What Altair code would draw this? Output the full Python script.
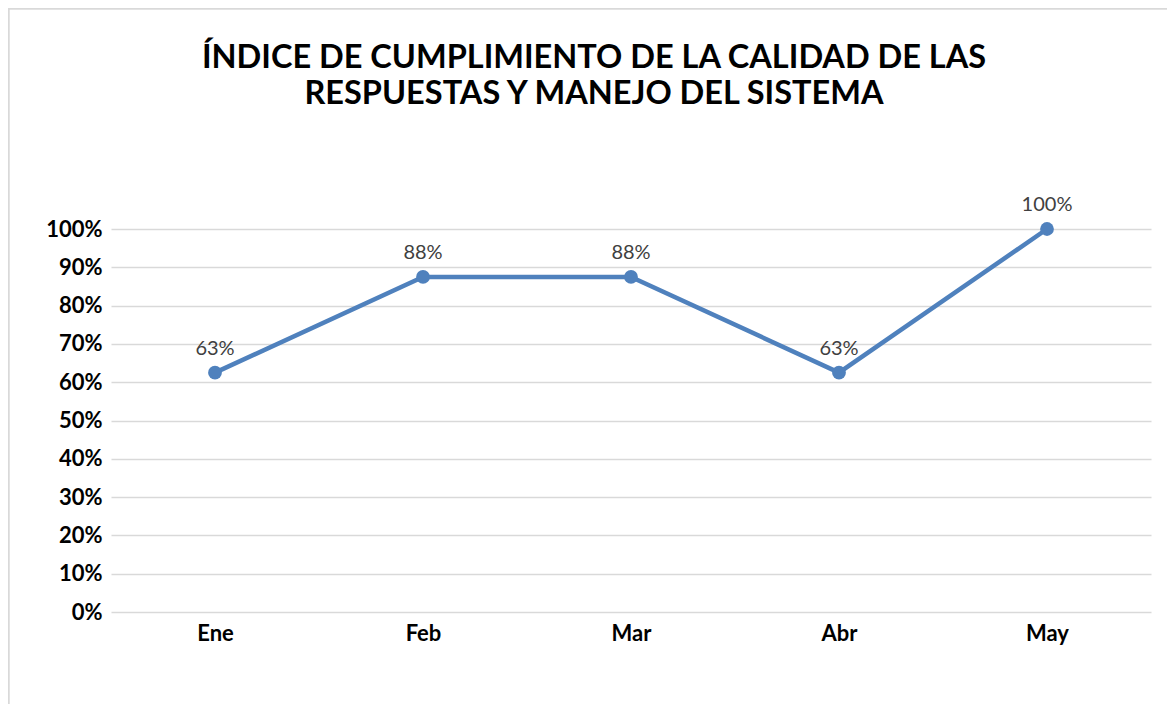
import altair as alt
import pandas as pd

months = ["Ene", "Feb", "Mar", "Abr", "May"]
values = [0.625, 0.875, 0.875, 0.625, 1.0]
labels = ["63%", "88%", "88%", "63%", "100%"]
title_lines = ["ÍNDICE DE CUMPLIMIENTO DE LA CALIDAD DE LAS",
               "RESPUESTAS Y MANEJO DEL SISTEMA"]

df = pd.DataFrame({"mes": months, "valor": values, "etiqueta": labels})

FONT = "Lato"
W, H = 1040, 383
PL, PT, PR, PB = 103, 221, 16, 92

x = alt.X("mes:N", sort=months, title=None,
          scale=alt.Scale(type="point", padding=0.5),
          axis=alt.Axis(labelAngle=0, labelFont=FONT, labelFontSize=22,
                        labelFontWeight="bold", labelColor="#000000",
                        labelPadding=11, ticks=False, domain=False, grid=False))
y = alt.Y("valor:Q", title=None,
          scale=alt.Scale(domain=[0, 1]),
          axis=alt.Axis(format=".0%", values=[i / 10 for i in range(11)],
                        labelFont=FONT, labelFontSize=22, labelFontWeight="bold",
                        labelColor="#000000", labelPadding=9, ticks=False,
                        domain=False, gridColor="#d9d9d9", gridWidth=1.5))

base = alt.Chart(df)

frame = base.mark_rect(fill=None, stroke="#d9d9d9", strokeWidth=1.5).encode(
    x=alt.value(-PL + 0.5), x2=alt.value(W + PR + 10),
    y=alt.value(-PT + 0.5), y2=alt.value(H + PB + 20)
)

t1 = alt.Chart(pd.DataFrame({"t": [title_lines[0]]})).mark_text(
    font=FONT, fontSize=32.5, fontWeight="bold", color="#000000",
    align="center", baseline="alphabetic"
).encode(x=alt.value(594 - 8 - PL), y=alt.value(68 - 8 - PT), text="t:N")
t2 = alt.Chart(pd.DataFrame({"t": [title_lines[1]]})).mark_text(
    font=FONT, fontSize=32.5, fontWeight="bold", color="#000000",
    align="center", baseline="alphabetic"
).encode(x=alt.value(594 - 8 - PL), y=alt.value(104 - 8 - PT), text="t:N")

line = base.mark_line(color="#4f81bd", strokeWidth=4.5).encode(x=x, y=y)
pts = base.mark_point(filled=True, color="#4f81bd", size=190, opacity=1).encode(x=x, y=y)
txt = base.mark_text(font=FONT, fontSize=20, color="#404040", baseline="bottom",
                     dy=-14).encode(x=x, y=y, text="etiqueta:N")

chart = alt.layer(frame, t1, t2, line, pts, txt).properties(
    width=W, height=H,
    autosize=alt.AutoSizeParams(type="none"),
    padding={"left": PL, "top": PT, "right": PR, "bottom": PB},
).configure_view(stroke=None)

chart.save("out.html", embed_options={"renderer": "svg", "actions": False})
